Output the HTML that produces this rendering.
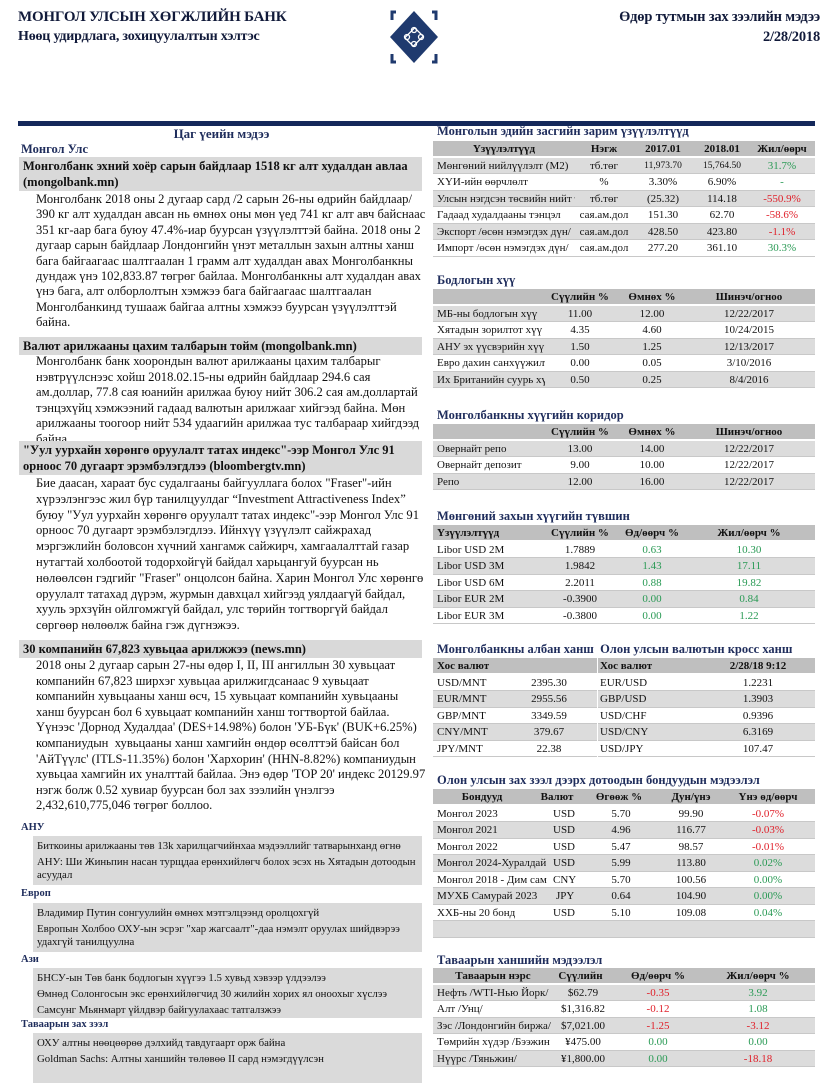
<!DOCTYPE html>
<html><head><meta charset="utf-8">
<style>
*{margin:0;padding:0;box-sizing:border-box}
body{width:827px;height:1090px;background:#fff;position:relative;font-family:"Liberation Serif",serif;color:#111;overflow:hidden}
.a{position:absolute}
.h1{font-weight:bold;font-size:15px;color:#111a3a;letter-spacing:-0.2px}
.nv{color:#1f2d5c;font-weight:bold}
.sec{font-size:12.5px;color:#1f2d5c;font-weight:bold}
.gh{background:#d9d9d9;font-weight:bold;font-size:12.5px;line-height:16px;padding:1px 4px}
.body{font-size:12.6px;line-height:15.6px;padding-left:18px;white-space:nowrap}
.box{background:#dadada;font-size:10.8px;line-height:16px;padding:2px 4px 2px 4px;white-space:nowrap}
.t{width:382px;font-size:11px}
.t .r{display:flex;height:16.5px;line-height:16.5px;border-bottom:1px solid #c8c8c8;white-space:nowrap;overflow:hidden}
.t .hd{background:#bfbfbf;font-weight:bold;border-bottom:2px solid #fff}
.t .g{background:#dcdcdc}
.t span{display:block;overflow:hidden}
.c{text-align:center}.rt{text-align:right}
.gr{color:#2a9a55}.rd{color:#e0202a}
</style></head><body>

<div class="a h1" style="left:18px;top:9px">МОНГОЛ УЛСЫН ХӨГЖЛИЙН БАНК</div>
<div class="a h1" style="left:18px;top:29px;font-size:14px">Нөөц удирдлага, зохицуулалтын хэлтэс</div>
<div class="a h1" style="right:7px;top:9px;text-align:right;font-size:14.5px">Өдөр тутмын зах зээлийн мэдээ</div>
<div class="a h1" style="right:7px;top:29px;font-size:14.5px">2/28/2018</div>

<svg class="a" style="left:386px;top:8px" width="56" height="58" viewBox="0 0 56 58">
<polygon points="28,3 52,29 28,55 4,29" fill="#1f3a6e"/>
<path d="M10,4 L6,4 L6,12 M46,4 L50,4 L50,12 M10,54 L6,54 L6,46 M46,54 L50,54 L50,46" stroke="#1f3a6e" stroke-width="3" fill="none"/>
<g fill="none" stroke="#fff" stroke-width="1.3">
<rect x="22" y="22" width="12" height="14" transform="rotate(45 28 29)"/>
<circle cx="28" cy="22" r="2.5"/><circle cx="28" cy="36" r="2.5"/><circle cx="21" cy="29" r="2.5"/><circle cx="35" cy="29" r="2.5"/>
</g></svg>

<div class="a" style="left:18px;top:121px;width:797px;height:5px;background:#14285a"></div>

<!-- LEFT -->
<div class="a sec" style="left:18px;width:407px;top:126px;text-align:center;font-size:13px">Цаг үеийн мэдээ</div>
<div class="a sec" style="left:21px;top:142px">Монгол Улс</div>
<div class="a gh" style="left:19px;top:157px;width:403px">Монголбанк эхний хоёр сарын байдлаар 1518 кг алт худалдан авлаа (mongolbank.mn)</div>
<div class="a body" style="left:18px;top:192px;line-height:15.4px">Монголбанк 2018 оны 2 дугаар сард /2 сарын 26-ны өдрийн байдлаар/<br>390 кг алт худалдан авсан нь өмнөх оны мөн үед 741 кг алт авч байснаас<br>351 кг-аар бага буюу 47.4%-иар буурсан үзүүлэлттэй байна. 2018 оны 2<br>дугаар сарын байдлаар Лондонгийн үнэт металлын захын алтны ханш<br>бага байгаагаас шалтгаалан 1 грамм алт худалдан авах Монголбанкны<br>дундаж үнэ 102,833.87 төгрөг байлаа. Монголбанкны алт худалдан авах<br>үнэ бага, алт олборлолтын хэмжээ бага байгаагаас шалтгаалан<br>Монголбанкинд тушааж байгаа алтны хэмжээ буурсан үзүүлэлттэй<br>байна.</div>
<div class="a gh" style="left:19px;top:337px;width:403px">Валют арилжааны цахим талбарын тойм (mongolbank.mn)</div>
<div class="a" style="left:18px;top:354px;height:87px;overflow:hidden"><div class="body">Монголбанк банк хоорондын валют арилжааны цахим талбарыг<br>нэвтрүүлснээс хойш 2018.02.15-ны өдрийн байдлаар 294.6 сая<br>ам.доллар, 77.8 сая юанийн арилжаа буюу нийт 306.2 сая ам.доллартай<br>тэнцэхүйц хэмжээний гадаад валютын арилжааг хийгээд байна. Мөн<br>арилжааны тоогоор нийт 534 удаагийн арилжаа тус талбараар хийгдээд<br>байна.</div></div>
<div class="a gh" style="left:19px;top:441px;width:403px">"Уул уурхайн хөрөнгө оруулалт татах индекс"-ээр Монгол Улс 91 орноос 70 дугаарт эрэмбэлэгдлээ (bloombergtv.mn)</div>
<div class="a body" style="left:18px;top:476px;line-height:15.8px">Бие даасан, хараат бус судалгааны байгууллага болох "Fraser"-ийн<br>хүрээлэнгээс жил бүр танилцуулдаг “Investment Attractiveness Index”<br>буюу "Уул уурхайн хөрөнгө оруулалт татах индекс"-ээр Монгол Улс 91<br>орноос 70 дугаарт эрэмбэлэгдлээ. Ийнхүү үзүүлэлт сайжрахад<br>мэргэжлийн боловсон хүчний хангамж сайжирч, хамгаалалттай газар<br>нутагтай холбоотой тодорхойгүй байдал харьцангуй буурсан нь<br>нөлөөлсөн гэдгийг "Fraser" онцолсон байна. Харин Монгол Улс хөрөнгө<br>оруулалт татахад дүрэм, журмын давхцал хийгээд уялдаагүй байдал,<br>хууль эрхзүйн ойлгомжгүй байдал, улс төрийн тогтворгүй байдал<br>сөргөөр нөлөөлж байна гэж дүгнэжээ.</div>
<div class="a gh" style="left:19px;top:640px;width:403px">30 компанийн 67,823 хувьцаа арилжжээ (news.mn)</div>
<div class="a body" style="left:18px;top:658px;line-height:15.6px">2018 оны 2 дугаар сарын 27-ны өдөр I, II, III ангиллын 30 хувьцаат<br>компанийн 67,823 ширхэг хувьцаа арилжигдсанаас 9 хувьцаат<br>компанийн хувьцааны ханш өсч, 15 хувьцаат компанийн хувьцааны<br>ханш буурсан бол 6 хувьцаат компанийн ханш тогтвортой байлаа.<br>Үүнээс 'Дорнод Худалдаа' (DES+14.98%) болон 'УБ-Бүк' (BUK+6.25%)<br>компаниудын &nbsp;хувьцааны ханш хамгийн өндөр өсөлттэй байсан бол<br>'АйТүүлс' (ITLS-11.35%) болон 'Хархорин' (HHN-8.82%) компаниудын<br>хувьцаа хамгийн их уналттай байлаа. Энэ өдөр 'TOP 20' индекс 20129.97<br>нэгж болж 0.52 хувиар буурсан бол зах зээлийн үнэлгээ<br>2,432,610,775,046 төгрөг боллоо.</div>

<div class="a nv" style="left:21px;top:822px;font-size:10.5px">АНУ</div>
<div class="a box" style="left:33px;top:836px;width:389px;height:49px">Биткоины арилжааны төв 13k харилцагчийнхаа мэдээллийг татварынханд өгнө<br>АНУ: Ши Жиньпин насан турщдаа ерөнхийлөгч болох эсэх нь Хятадын дотоодын<br><span style="position:relative;top:-3px">асуудал</span></div>
<div class="a nv" style="left:21px;top:888px;font-size:10.5px">Европ</div>
<div class="a box" style="left:33px;top:903px;width:389px;height:49px">Владимир Путин сонгуулийн өмнөх мэтгэлцээнд оролцохгүй<br>Европын Холбоо ОХУ-ын эсрэг "хар жагсаалт"-даа нэмэлт оруулах шийдвэрээ<br><span style="position:relative;top:-3px">удахгүй танилцуулна</span></div>
<div class="a nv" style="left:21px;top:954px;font-size:10.5px">Ази</div>
<div class="a box" style="left:33px;top:968px;width:389px;height:50px">БНСУ-ын Төв банк бодлогын хүүгээ 1.5 хувьд хэвээр үлдээлээ<br>Өмнөд Солонгосын экс ерөнхийлөгчид 30 жилийн хорих ял оноохыг хүслээ<br>Самсунг Мьянмарт үйлдвэр байгуулахаас татгалзжээ</div>
<div class="a nv" style="left:21px;top:1019px;font-size:10.5px">Таваарын зах зээл</div>
<div class="a box" style="left:33px;top:1033px;width:389px;height:50px">ОХУ алтны нөөцөөрөө дэлхийд тавдугаарт орж байна<br>Goldman Sachs: Алтны ханшийн төлөвөө II сард нэмэгдүүлсэн</div>

<!-- RIGHT -->
<div class="a sec" style="left:437px;top:124px">Монголын эдийн засгийн зарим үзүүлэлтүүд</div>
<div class="a t" style="left:433px;top:141px">
<div class="r hd"><span style="width:142px" class="c">Үзүүлэлтүүд</span><span style="width:58px" class="c">Нэгж</span><span style="width:60px" class="c">2017.01</span><span style="width:58px" class="c">2018.01</span><span style="width:62px" class="c">Жил/өөрч</span></div>
<div class="r g"><span style="width:142px;padding-left:4px">Мөнгөний нийлүүлэлт (M2)</span><span style="width:58px" class="c">тб.төг</span><span style="width:60px;font-size:9.5px" class="c">11,973.70</span><span style="width:58px;font-size:9.5px" class="c">15,764.50</span><span style="width:62px" class="c gr">31.7%</span></div>
<div class="r"><span style="width:142px;padding-left:4px">ХҮИ-ийн өөрчлөлт</span><span style="width:58px" class="c">%</span><span style="width:60px" class="c">3.30%</span><span style="width:58px" class="c">6.90%</span><span style="width:62px" class="c gr">-</span></div>
<div class="r g"><span style="width:142px;padding-left:4px">Улсын нэгдсэн төсвийн нийт т:</span><span style="width:58px" class="c">тб.төг</span><span style="width:60px" class="c">(25.32)</span><span style="width:58px" class="c">114.18</span><span style="width:62px" class="c rd">-550.9%</span></div>
<div class="r"><span style="width:142px;padding-left:4px">Гадаад худалдааны тэнцэл</span><span style="width:58px" class="c">сая.ам.дол</span><span style="width:60px" class="c">151.30</span><span style="width:58px" class="c">62.70</span><span style="width:62px" class="c rd">-58.6%</span></div>
<div class="r g"><span style="width:142px;padding-left:4px">Экспорт /өсөн нэмэгдэх дүн/</span><span style="width:58px" class="c">сая.ам.дол</span><span style="width:60px" class="c">428.50</span><span style="width:58px" class="c">423.80</span><span style="width:62px" class="c rd">-1.1%</span></div>
<div class="r"><span style="width:142px;padding-left:4px">Импорт /өсөн нэмэгдэх дүн/</span><span style="width:58px" class="c">сая.ам.дол</span><span style="width:60px" class="c">277.20</span><span style="width:58px" class="c">361.10</span><span style="width:62px" class="c gr">30.3%</span></div>
</div>

<div class="a sec" style="left:437px;top:273px">Бодлогын хүү</div>
<div class="a t" style="left:433px;top:289px">
<div class="r hd"><span style="width:112px"></span><span style="width:70px" class="c">Сүүлийн %</span><span style="width:74px" class="c">Өмнөх %</span><span style="width:120px" class="c">Шинэч/огноо</span></div>
<div class="r g"><span style="width:112px;padding-left:4px">МБ-ны бодлогын хүү</span><span style="width:70px" class="c">11.00</span><span style="width:74px" class="c">12.00</span><span style="width:120px" class="c">12/22/2017</span></div>
<div class="r"><span style="width:112px;padding-left:4px">Хятадын зорилтот хүү</span><span style="width:70px" class="c">4.35</span><span style="width:74px" class="c">4.60</span><span style="width:120px" class="c">10/24/2015</span></div>
<div class="r g"><span style="width:112px;padding-left:4px">АНУ эх үүсвэрийн хүү</span><span style="width:70px" class="c">1.50</span><span style="width:74px" class="c">1.25</span><span style="width:120px" class="c">12/13/2017</span></div>
<div class="r"><span style="width:112px;padding-left:4px">Евро дахин санхүүжилт</span><span style="width:70px" class="c">0.00</span><span style="width:74px" class="c">0.05</span><span style="width:120px" class="c">3/10/2016</span></div>
<div class="r g"><span style="width:112px;padding-left:4px">Их Британийн суурь хүү</span><span style="width:70px" class="c">0.50</span><span style="width:74px" class="c">0.25</span><span style="width:120px" class="c">8/4/2016</span></div>
</div>

<div class="a sec" style="left:437px;top:408px">Монголбанкны хүүгийн коридор</div>
<div class="a t" style="left:433px;top:424px">
<div class="r hd"><span style="width:112px"></span><span style="width:70px" class="c">Сүүлийн %</span><span style="width:74px" class="c">Өмнөх %</span><span style="width:120px" class="c">Шинэч/огноо</span></div>
<div class="r g"><span style="width:112px;padding-left:4px">Овернайт репо</span><span style="width:70px" class="c">13.00</span><span style="width:74px" class="c">14.00</span><span style="width:120px" class="c">12/22/2017</span></div>
<div class="r"><span style="width:112px;padding-left:4px">Овернайт депозит</span><span style="width:70px" class="c">9.00</span><span style="width:74px" class="c">10.00</span><span style="width:120px" class="c">12/22/2017</span></div>
<div class="r g"><span style="width:112px;padding-left:4px">Репо</span><span style="width:70px" class="c">12.00</span><span style="width:74px" class="c">16.00</span><span style="width:120px" class="c">12/22/2017</span></div>
</div>

<div class="a sec" style="left:437px;top:509px">Мөнгөний захын хүүгийн түвшин</div>
<div class="a t" style="left:433px;top:525px">
<div class="r hd"><span style="width:112px;padding-left:4px">Үзүүлэлтүүд</span><span style="width:70px" class="c">Сүүлийн %</span><span style="width:74px" class="c">Өд/өөрч %</span><span style="width:120px" class="c">Жил/өөрч %</span></div>
<div class="r"><span style="width:112px;padding-left:4px">Libor USD 2M</span><span style="width:70px" class="c">1.7889</span><span style="width:74px" class="c gr">0.63</span><span style="width:120px" class="c gr">10.30</span></div>
<div class="r g"><span style="width:112px;padding-left:4px">Libor USD 3M</span><span style="width:70px" class="c">1.9842</span><span style="width:74px" class="c gr">1.43</span><span style="width:120px" class="c gr">17.11</span></div>
<div class="r"><span style="width:112px;padding-left:4px">Libor USD 6M</span><span style="width:70px" class="c">2.2011</span><span style="width:74px" class="c gr">0.88</span><span style="width:120px" class="c gr">19.82</span></div>
<div class="r g"><span style="width:112px;padding-left:4px">Libor EUR 2M</span><span style="width:70px" class="c">-0.3900</span><span style="width:74px" class="c gr">0.00</span><span style="width:120px" class="c gr">0.84</span></div>
<div class="r"><span style="width:112px;padding-left:4px">Libor EUR 3M</span><span style="width:70px" class="c">-0.3800</span><span style="width:74px" class="c gr">0.00</span><span style="width:120px" class="c gr">1.22</span></div>
</div>

<div class="a sec" style="left:437px;top:642px">Монголбанкны албан ханш&nbsp; Олон улсын валютын кросс ханш</div>
<div class="a t" style="left:433px;top:658px;width:164px">
<div class="r hd"><span style="width:160px;padding-left:4px">Хос валют</span></div>
<div class="r"><span style="width:80px;padding-left:4px">USD/MNT</span><span style="width:72px" class="c">2395.30</span></div>
<div class="r g"><span style="width:80px;padding-left:4px">EUR/MNT</span><span style="width:72px" class="c">2955.56</span></div>
<div class="r"><span style="width:80px;padding-left:4px">GBP/MNT</span><span style="width:72px" class="c">3349.59</span></div>
<div class="r g"><span style="width:80px;padding-left:4px">CNY/MNT</span><span style="width:72px" class="c">379.67</span></div>
<div class="r"><span style="width:80px;padding-left:4px">JPY/MNT</span><span style="width:72px" class="c">22.38</span></div>
</div>
<div class="a t" style="left:598px;top:658px;width:217px">
<div class="r hd"><span style="width:110px;padding-left:2px">Хос валют</span><span style="width:100px" class="c">2/28/18 9:12</span></div>
<div class="r"><span style="width:110px;padding-left:2px">EUR/USD</span><span style="width:100px" class="c">1.2231</span></div>
<div class="r g"><span style="width:110px;padding-left:2px">GBP/USD</span><span style="width:100px" class="c">1.3903</span></div>
<div class="r"><span style="width:110px;padding-left:2px">USD/CHF</span><span style="width:100px" class="c">0.9396</span></div>
<div class="r g"><span style="width:110px;padding-left:2px">USD/CNY</span><span style="width:100px" class="c">6.3169</span></div>
<div class="r"><span style="width:110px;padding-left:2px">USD/JPY</span><span style="width:100px" class="c">107.47</span></div>
</div>

<div class="a sec" style="left:437px;top:773px">Олон улсын зах зээл дээрх дотоодын бондуудын мэдээлэл</div>
<div class="a t" style="left:433px;top:789px">
<div class="r hd"><span style="width:98px" class="c">Бондууд</span><span style="width:52px" class="c">Валют</span><span style="width:72px" class="c">Өгөөж %</span><span style="width:72px" class="c">Дун/үнэ</span><span style="width:82px" class="c">Үнэ өд/өөрч</span></div>
<div class="r"><span style="width:120px;padding-left:4px">Монгол 2023</span><span style="width:34px">USD</span><span style="width:68px" class="c">5.70</span><span style="width:72px" class="c">99.90</span><span style="width:82px" class="c rd">-0.07%</span></div>
<div class="r g"><span style="width:120px;padding-left:4px">Монгол 2021</span><span style="width:34px">USD</span><span style="width:68px" class="c">4.96</span><span style="width:72px" class="c">116.77</span><span style="width:82px" class="c rd">-0.03%</span></div>
<div class="r"><span style="width:120px;padding-left:4px">Монгол 2022</span><span style="width:34px">USD</span><span style="width:68px" class="c">5.47</span><span style="width:72px" class="c">98.57</span><span style="width:82px" class="c rd">-0.01%</span></div>
<div class="r g"><span style="width:120px;padding-left:4px">Монгол 2024-Хуралдай</span><span style="width:34px">USD</span><span style="width:68px" class="c">5.99</span><span style="width:72px" class="c">113.80</span><span style="width:82px" class="c gr">0.02%</span></div>
<div class="r"><span style="width:120px;padding-left:4px">Монгол 2018 - Дим сам</span><span style="width:34px">CNY</span><span style="width:68px" class="c">5.70</span><span style="width:72px" class="c">100.56</span><span style="width:82px" class="c gr">0.00%</span></div>
<div class="r g"><span style="width:120px;padding-left:4px">МУХБ Самурай 2023</span><span style="width:34px;padding-left:3px">JPY</span><span style="width:68px" class="c">0.64</span><span style="width:72px" class="c">104.90</span><span style="width:82px" class="c gr">0.00%</span></div>
<div class="r"><span style="width:120px;padding-left:4px">ХХБ-ны 20 бонд</span><span style="width:34px">USD</span><span style="width:68px" class="c">5.10</span><span style="width:72px" class="c">109.08</span><span style="width:82px" class="c gr">0.04%</span></div>
<div class="r g"></div>
</div>

<div class="a sec" style="left:437px;top:953px">Таваарын ханшийн мэдээлэл</div>
<div class="a t" style="left:433px;top:968px">
<div class="r hd"><span style="width:120px" class="c">Таваарын нэрс</span><span style="width:55px" class="c">Сүүлийн</span><span style="width:100px" class="c">Өд/өөрч %</span><span style="width:100px" class="c">Жил/өөрч %</span></div>
<div class="r g"><span style="width:125px;padding-left:4px">Нефть /WTI-Нью Йорк/</span><span style="width:50px" class="c">$62.79</span><span style="width:100px" class="c rd">-0.35</span><span style="width:100px" class="c gr">3.92</span></div>
<div class="r"><span style="width:125px;padding-left:4px">Алт /Унц/</span><span style="width:50px" class="c">$1,316.82</span><span style="width:100px" class="c rd">-0.12</span><span style="width:100px" class="c gr">1.08</span></div>
<div class="r g"><span style="width:125px;padding-left:4px">Зэс /Лондонгийн биржа/</span><span style="width:50px" class="c">$7,021.00</span><span style="width:100px" class="c rd">-1.25</span><span style="width:100px" class="c rd">-3.12</span></div>
<div class="r"><span style="width:125px;padding-left:4px">Төмрийн хүдэр /Бээжин</span><span style="width:50px" class="c">¥475.00</span><span style="width:100px" class="c gr">0.00</span><span style="width:100px" class="c gr">0.00</span></div>
<div class="r g"><span style="width:125px;padding-left:4px">Нүүрс /Тяньжин/</span><span style="width:50px" class="c">¥1,800.00</span><span style="width:100px" class="c gr">0.00</span><span style="width:100px" class="c rd">-18.18</span></div>
</div>

</body></html>
